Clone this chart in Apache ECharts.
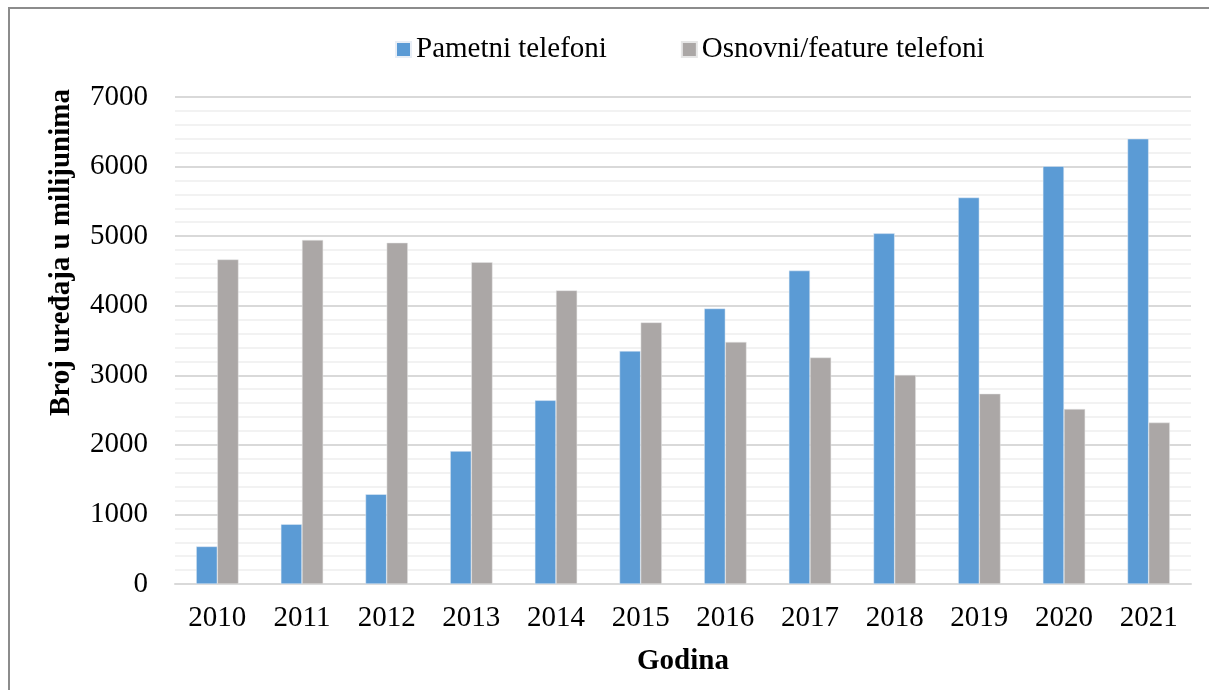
<!DOCTYPE html>
<html>
<head>
<meta charset="utf-8">
<script src="https://cdn.jsdelivr.net/npm/echarts@6/dist/echarts.min.js"></script>
<style>
  html, body { margin: 0; padding: 0; background: #fff; }
  #chart { width: 1209px; height: 690px; }
</style>
</head>
<body>
<div id="chart"></div>
<script>
const years = ['2010', '2011', '2012', '2013', '2014', '2015', '2016', '2017', '2018', '2019', '2020', '2021']
const pametni = [540, 860, 1290, 1910, 2640, 3350, 3960, 4505, 5040, 5555, 6005, 6400]
const osnovni = [4665, 4945, 4905, 4625, 4220, 3760, 3480, 3255, 3005, 2735, 2515, 2320]
const seriesNames = ['Pametni telefoni', 'Osnovni/feature telefoni']

const font = '"Liberation Serif", "Times New Roman", serif'
const chart = echarts.init(document.getElementById('chart'))

const option = {
  animation: false,
  textStyle: { fontFamily: font },
  // okvir oko grafikona
  graphic: [
    {
      type: 'rect',
      shape: { x: 9, y: 8, width: 1230, height: 720 },
      style: { fill: 'none', stroke: '#8c8c8c', lineWidth: 2 },
      silent: true
    }
  ],
  legend: {
    top: 30,
    left: 390,
    itemWidth: 15,
    itemHeight: 15,
    itemGap: 74,
    icon: 'rect',
    textStyle: { fontFamily: font, fontSize: 29, color: '#000' },
    data: seriesNames
  },
  grid: {
    left: 175,
    right: 18,
    top: 97,
    bottom: 106
  },
  xAxis: {
    type: 'category',
    data: years,
    name: 'Godina',
    nameLocation: 'middle',
    nameGap: 63,
    nameTextStyle: { fontFamily: font, fontSize: 29, fontWeight: 'bold', color: '#000' },
    axisLine: { lineStyle: { color: '#d9d9d9', width: 2 } },
    axisTick: { show: false },
    axisLabel: { fontFamily: font, fontSize: 29, color: '#000', margin: 20 }
  },
  yAxis: {
    type: 'value',
    min: 0,
    max: 7000,
    interval: 1000,
    name: 'Broj uređaja u milijunima',
    nameLocation: 'middle',
    nameGap: 99,
    nameTextStyle: {
      fontFamily: font, fontSize: 29, fontWeight: 'bold', color: '#000',
      padding: [0, 0, 0, 176]
    },
    axisLabel: {
      fontFamily: font, fontSize: 29, color: '#000', margin: 27,
      formatter: (v) => String(v)
    },
    axisLine: { show: false },
    axisTick: { show: false },
    splitLine: { lineStyle: { color: '#d9d9d9', width: 2 } },
    minorTick: { show: false, splitNumber: 5 },
    minorSplitLine: { show: true, lineStyle: { color: '#f2f2f2', width: 2 } }
  },
  series: [
    {
      name: seriesNames[0],
      type: 'bar',
      data: pametni,
      barWidth: '25%',
      barGap: '0%',
      itemStyle: { color: '#5b9bd5', borderColor: '#e8eef6', borderWidth: 0.5 }
    },
    {
      name: seriesNames[1],
      type: 'bar',
      data: osnovni,
      barWidth: '25%',
      barGap: '0%',
      itemStyle: { color: '#aba7a6', borderColor: '#e6e6e6', borderWidth: 0.5 }
    }
  ]
}

chart.setOption(option)
</script>
</body>
</html>
